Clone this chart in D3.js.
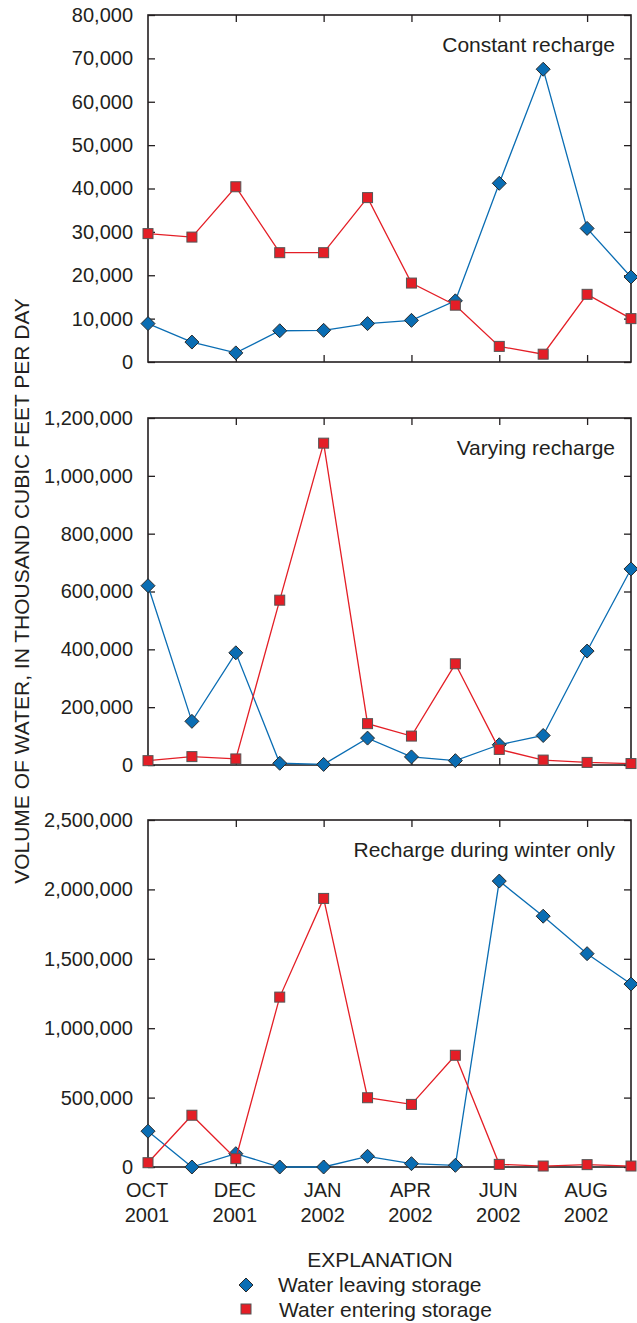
<!DOCTYPE html>
<html><head><meta charset="utf-8">
<script src="https://cdn.jsdelivr.net/npm/d3@7"></script>
<style>
html,body{margin:0;padding:0;background:#fff;}
svg{display:block;font-family:"Liberation Sans",Arial,Helvetica,sans-serif;}
</style></head>
<body><svg id="c" width="637" height="1323"></svg>
<script>
const months = ["OCT","NOV","DEC","JAN1","JAN","MAR","APR","MAY","JUN","JUL","AUG","SEP"];
const xTickIdx = [0,2,4,6,8,10];
const xTickMonth = ["OCT","DEC","JAN","APR","JUN","AUG"];
const xTickYear = ["2001","2001","2002","2002","2002","2002"];

const panelTitles = ["Constant recharge","Varying recharge","Recharge during winter only"];
const yMax = [80000, 1200000, 2500000];
const yStep = [10000, 200000, 500000];

const leavingConstant = [8850,4600,2100,7200,7300,8850,9600,14100,41200,67500,30800,19600];
const enteringConstant = [29600,28800,40400,25200,25200,37900,18200,13100,3600,1800,15600,10000];
const leavingVarying = [620000,151000,388000,6000,2000,93000,28000,15000,70000,102000,394000,678000];
const enteringVarying = [15000,29000,21000,570000,1113000,143000,100000,350000,54000,17000,9000,5000];
const leavingWinter = [258000,0,96000,0,0,77000,24000,12000,2060000,1807000,1537000,1318000];
const enteringWinter = [31000,373000,60000,1224000,1935000,499000,451000,805000,19000,7000,17000,7000];

const leavingSeries = [leavingConstant, leavingVarying, leavingWinter];
const enteringSeries = [enteringConstant, enteringVarying, enteringWinter];

const legendLabels = ["Water leaving storage","Water entering storage"];
const yAxisTitle = "VOLUME OF WATER, IN THOUSAND CUBIC FEET PER DAY";

const BLUE = "#0a6db3", RED = "#e41e26", INK = "#231f20";
const svg = d3.select("#c");
const left = 148, right = 631;
const tops = [15, 418, 820];
const ph = 347;
const fs = 20, fsT = 21;

const x = d3.scaleLinear().domain([0, months.length - 1]).range([left, right]);
const fmt = d3.format(",");

function diamondPath(){ const s=7; return `M0,${-s}L${s},0L0,${s}L${-s},0Z`; }

tops.forEach((top, p) => {
  const g = svg.append("g");
  const y = d3.scaleLinear().domain([0, yMax[p]]).range([top + ph, top]);
  const ticks = d3.range(0, yMax[p] + 1, yStep[p]);

  const axL = d3.axisLeft(y).tickValues(ticks).tickFormat(fmt).tickSize(-7).tickPadding(15);
  const gl = g.append("g").attr("transform", `translate(${left},0)`).call(axL);
  const axR = d3.axisRight(y).tickValues(ticks).tickFormat("").tickSize(-7);
  const gr = g.append("g").attr("transform", `translate(${right},0)`).call(axR);
  const xt = xTickIdx.slice(1);
  const axT = d3.axisTop(x).tickValues(xt).tickFormat("").tickSize(-7);
  const gt = g.append("g").attr("transform", `translate(0,${top})`).call(axT);
  const axB = d3.axisBottom(x).tickValues(xt).tickFormat("").tickSize(-7);
  const gb = g.append("g").attr("transform", `translate(0,${top + ph})`).call(axB);
  [gl, gr, gt, gb].forEach(a => {
    a.select(".domain").remove();
    a.selectAll(".tick line").attr("stroke", INK).attr("stroke-width", 1.3);
  });
  gl.selectAll(".tick text").attr("font-size", fs).attr("fill", INK)
    .attr("font-family", '"Liberation Sans",Arial,sans-serif');

  g.append("rect").attr("x", left).attr("y", top).attr("width", right - left).attr("height", ph)
    .attr("fill", "none").attr("stroke", INK).attr("stroke-width", 1.6);

  g.append("text").attr("x", 615).attr("y", top + 37).attr("text-anchor", "end")
    .attr("font-size", fsT).attr("fill", INK).text(panelTitles[p]);

  const line = d3.line().x((d, i) => x(i)).y(d => y(d));
  g.append("path").datum(leavingSeries[p]).attr("d", line).attr("fill", "none")
    .attr("stroke", BLUE).attr("stroke-width", 1.3);
  g.selectAll(".dm").data(leavingSeries[p]).join("path").attr("class", "dm")
    .attr("transform", (d, i) => `translate(${x(i)},${y(d)})`)
    .attr("d", diamondPath()).attr("fill", BLUE).attr("stroke", "#2a2a2a").attr("stroke-width", 1);
  g.append("path").datum(enteringSeries[p]).attr("d", line).attr("fill", "none")
    .attr("stroke", RED).attr("stroke-width", 1.3);
  g.selectAll(".sq").data(enteringSeries[p]).join("rect").attr("class", "sq")
    .attr("x", (d, i) => x(i) - 5).attr("y", d => y(d) - 5).attr("width", 10).attr("height", 10)
    .attr("fill", RED).attr("stroke", "#555").attr("stroke-width", 1);
});

const xl = svg.append("g");
xTickIdx.forEach((idx, k) => {
  xl.append("text").attr("x", x(idx) - 1).attr("y", 1197).attr("text-anchor", "middle")
    .attr("font-size", fs).attr("fill", INK).text(xTickMonth[k]);
  xl.append("text").attr("x", x(idx) - 1).attr("y", 1222).attr("text-anchor", "middle")
    .attr("font-size", fs).attr("fill", INK).text(xTickYear[k]);
});

svg.append("text").attr("transform", `translate(29,591) rotate(-90)`).attr("text-anchor", "middle")
  .attr("font-size", fsT).attr("fill", INK).text(yAxisTitle);

svg.append("text").attr("x", 380).attr("y", 1267).attr("text-anchor", "middle")
  .attr("font-size", fsT).attr("fill", INK).text("EXPLANATION");
svg.append("path").attr("transform", "translate(246,1285)").attr("d", diamondPath())
  .attr("fill", BLUE).attr("stroke", "#2a2a2a").attr("stroke-width", 1);
svg.append("text").attr("x", 278).attr("y", 1292).attr("font-size", fsT).attr("fill", INK).text(legendLabels[0]);
svg.append("rect").attr("x", 241).attr("y", 1304).attr("width", 10).attr("height", 10)
  .attr("fill", RED).attr("stroke", "#555").attr("stroke-width", 1);
svg.append("text").attr("x", 279).attr("y", 1317).attr("font-size", fsT).attr("fill", INK).text(legendLabels[1]);
</script></body></html>
